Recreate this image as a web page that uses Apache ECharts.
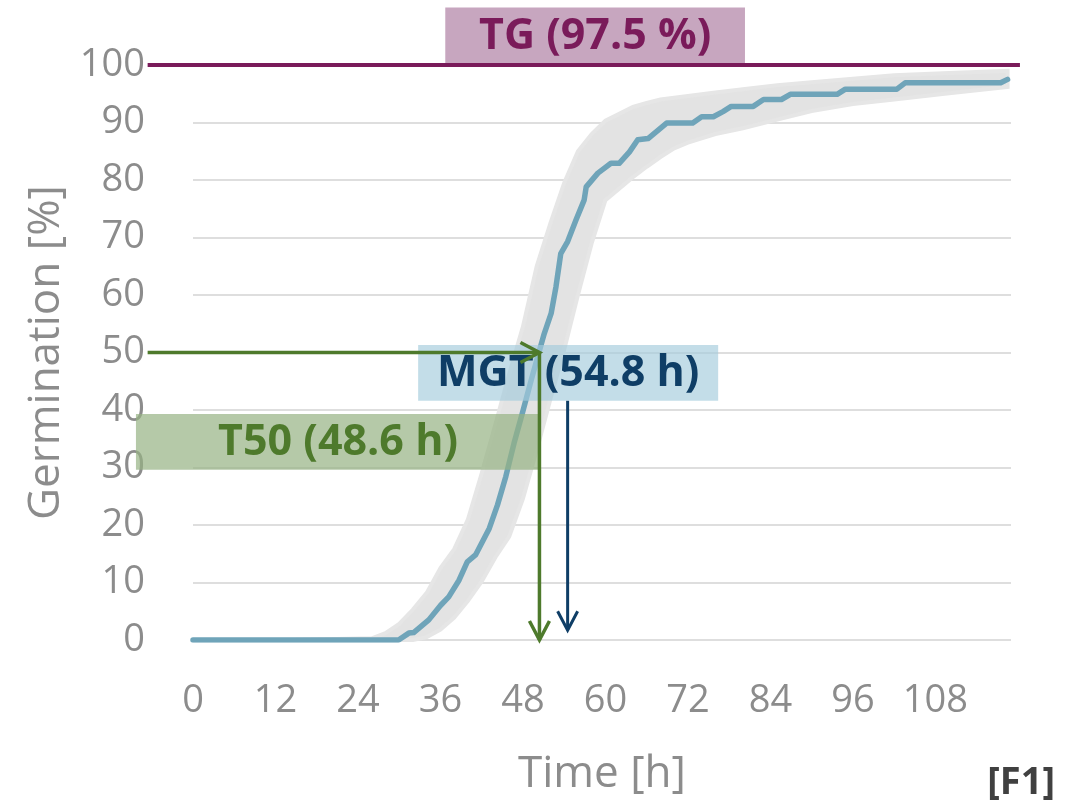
<!DOCTYPE html>
<html>
<head>
<meta charset="utf-8">
<script src="https://cdn.jsdelivr.net/npm/echarts@6/dist/echarts.min.js"></script>
<style>
html,body{margin:0;padding:0;background:#fff;}
#c{width:1081px;height:804px;}
</style>
</head>
<body>
<div id="c"></div>
<script>
// ---- data ----
const timeH = [0, 28, 29.9, 31.4, 32.1, 34.3, 36.0, 37.2, 38.7, 39.9, 41.1, 43.1, 44.3, 45.5, 46.7, 47.9, 49.2, 50.3, 51.1, 52.1, 52.8, 53.5, 54.5, 55.7, 56.9, 57.2, 58.9, 60.8, 62.0, 63.5, 64.7, 66.2, 68.9, 72.7, 74.0, 75.7, 77.1, 78.3, 81.5, 83.0, 85.6, 86.9, 93.7, 94.9, 102.4, 103.6, 117.5, 118.5];
const germination = [0, 0, 0, 1.2, 1.3, 3.5, 6.0, 7.5, 10.4, 13.6, 14.8, 19.4, 23.5, 28.4, 34.2, 39.4, 45.2, 49.9, 53.3, 56.8, 61.4, 67.2, 69.3, 73.0, 76.5, 78.8, 81.2, 82.9, 82.9, 84.9, 87.0, 87.2, 89.9, 89.9, 91.0, 91.0, 91.9, 92.8, 92.8, 94.0, 94.0, 94.9, 94.9, 95.8, 95.8, 96.9, 96.9, 97.5];
// spread band of the replicates
const bandTime  = [14, 26, 28, 30, 32, 34, 36, 38, 40, 42, 44, 46, 48, 50, 52, 54, 56, 58, 60, 62, 64, 66, 68, 70, 72, 76, 80, 85, 90, 96, 102, 110, 118.5];
const bandUpper = [0, 0.3, 1.2, 2.8, 5.3, 8.2, 12.5, 15.8, 21, 29, 37.5, 46.3, 54.5, 65, 72.5, 79.5, 85, 88, 90.3, 91.5, 92.7, 93.4, 94, 94.3, 94.6, 95.2, 95.8, 96.5, 97, 97.6, 98.2, 98.6, 99];
const bandLower = [0, 0, 0, 0, 0, 0.5, 1.8, 3.9, 6.8, 10.2, 14.4, 18, 24.6, 33, 41.9, 50.5, 60, 69, 76.5, 78.5, 80.5, 82.3, 84, 85.5, 86.5, 88, 89, 90.5, 92, 93.2, 94, 95.1, 96.2];
const xTicks = [0, 12, 24, 36, 48, 60, 72, 84, 96, 108];
const yTicks = [0, 10, 20, 30, 40, 50, 60, 70, 80, 90, 100];
// annotations
const TG_LABEL = 'TG (97.5 %)';
const TG_VALUE = 100;
const MGT_LABEL = 'MGT (54.8 h)';
const MGT_X = 54.5;
const T50_LABEL = 'T50 (48.6 h)';
const T50_X = 50.4;
const T50_Y = 50;

const FONT = '"Open Sans", "Noto Sans", sans-serif';
const chart = echarts.init(document.getElementById('c'), null, {renderer: 'canvas'});

const seriesData = timeH.map((t, i) => [t, germination[i]]);

chart.setOption({
  animation: false,
  backgroundColor: '#ffffff',
  grid: {left: 193, right: 70, top: 65, bottom: 164, containLabel: false},
  xAxis: {
    type: 'value', min: 0, max: 119, interval: 12,
    name: 'Time [h]', nameLocation: 'middle', nameGap: 112,
    nameTextStyle: {fontFamily: FONT, fontSize: 44, color: '#8c8c8c'},
    axisLine: {show: false}, axisTick: {show: false},
    axisLabel: {fontFamily: FONT, fontSize: 38, color: '#8c8c8c', margin: 42, showMaxLabel: false,
      formatter: v => xTicks.includes(v) ? String(v) : ''},
    splitLine: {show: false}
  },
  yAxis: {
    type: 'value', min: 0, max: 100, interval: 10,
    name: 'Germination [%]', nameLocation: 'middle', nameGap: 125,
    nameTextStyle: {fontFamily: FONT, fontSize: 44, color: '#8c8c8c'},
    axisLine: {show: false}, axisTick: {show: false},
    axisLabel: {fontFamily: FONT, fontSize: 38, color: '#8c8c8c', margin: 48,
      formatter: v => yTicks.includes(v) ? String(v) : ''},
    splitLine: {lineStyle: {color: '#dedede', width: 2}}
  },
  series: [
    {
      type: 'custom',
      z: 2,
      silent: true,
      data: [[0, 0]],
      renderItem: function (params, api) {
        const pts = [];
        for (let i = 0; i < bandTime.length; i++) pts.push(api.coord([bandTime[i], bandUpper[i]]));
        for (let i = bandTime.length - 1; i >= 0; i--) pts.push(api.coord([bandTime[i], bandLower[i]]));
        return {type: 'polygon', shape: {points: pts}, style: {fill: '#e3e3e3', stroke: '#e6e6e6', lineWidth: 4}};
      }
    },
    {
      type: 'line',
      z: 3,
      data: seriesData,
      showSymbol: false,
      lineStyle: {color: '#6fa4b9', width: 5.5, cap: 'round', join: 'round'}
    }
  ]
});

function P(x, y) { return chart.convertToPixel({gridIndex: 0}, [x, y]); }

function chevronDown(tip, color, w) {
  return {type: 'polyline', z: 120, shape: {points: [[tip[0] - 10, tip[1] - 19], tip, [tip[0] + 10, tip[1] - 19]]},
    style: {stroke: color, lineWidth: w, fill: null, lineJoin: 'miter'}};
}
function chevronRight(tip, color, w) {
  return {type: 'polyline', z: 120, shape: {points: [[tip[0] - 19, tip[1] - 10], tip, [tip[0] - 19, tip[1] + 10]]},
    style: {stroke: color, lineWidth: w, fill: null, lineJoin: 'miter'}};
}
function box(x1, y1, x2, y2, fill, label, color) {
  const a = P(x1, y1), b = P(x2, y2);
  return [
    {type: 'rect', z: 100, shape: {x: a[0], y: a[1], width: b[0] - a[0], height: b[1] - a[1]}, style: {fill: fill}},
    {type: 'text', z: 110, x: (a[0] + b[0]) / 2, y: (a[1] + b[1]) / 2 + 1,
      style: {text: label, fill: color, font: 'bold 43px ' + FONT, align: 'center', verticalAlign: 'middle'}}
  ];
}

const green = '#4e7a2c', navy = '#0f3e66', purple = '#7a1b5a';
const tgL = P(-6.6, TG_VALUE), tgR = P(120.3, TG_VALUE);
const t50Start = P(-6.6, T50_Y), t50Corner = P(T50_X, T50_Y), t50Bottom = P(T50_X, 0);
const mgtTop = P(MGT_X, 41.6), mgtBottom = P(MGT_X, 1.7);

const g = [];
// TG
g.push(...box(36.7, 110, 80.3, 100.3, '#c7a6bf', TG_LABEL, purple));
g.push({type: 'line', z: 105, shape: {x1: tgL[0], y1: tgL[1], x2: tgR[0], y2: tgR[1]}, style: {stroke: purple, lineWidth: 4}});
// MGT box
g.push(...box(32.75, 51.3, 76.4, 41.6, 'rgba(163,203,220,0.65)', MGT_LABEL, navy));
// T50 box
g.push(...box(-8.3, 39.3, 50.5, 29.6, 'rgba(149,178,131,0.7)', T50_LABEL, green));
// green arrows
g.push({type: 'line', z: 115, shape: {x1: t50Start[0], y1: t50Start[1], x2: t50Corner[0], y2: t50Corner[1]}, style: {stroke: green, lineWidth: 3.5}});
g.push(chevronRight(t50Corner, green, 3.5));
g.push({type: 'line', z: 115, shape: {x1: t50Corner[0], y1: t50Corner[1], x2: t50Bottom[0], y2: t50Bottom[1]}, style: {stroke: green, lineWidth: 3.5}});
g.push(chevronDown(t50Bottom, green, 3.5));
// navy arrow
g.push({type: 'line', z: 115, shape: {x1: mgtTop[0], y1: mgtTop[1], x2: mgtBottom[0], y2: mgtBottom[1]}, style: {stroke: navy, lineWidth: 3}});
g.push(chevronDown(mgtBottom, navy, 3));
// figure tag
g.push({type: 'text', z: 120, right: 26, bottom: 2, style: {text: '[F1]', fill: '#404040', font: 'bold 38px ' + FONT}});

chart.setOption({graphic: {elements: g}});
</script>
</body>
</html>
